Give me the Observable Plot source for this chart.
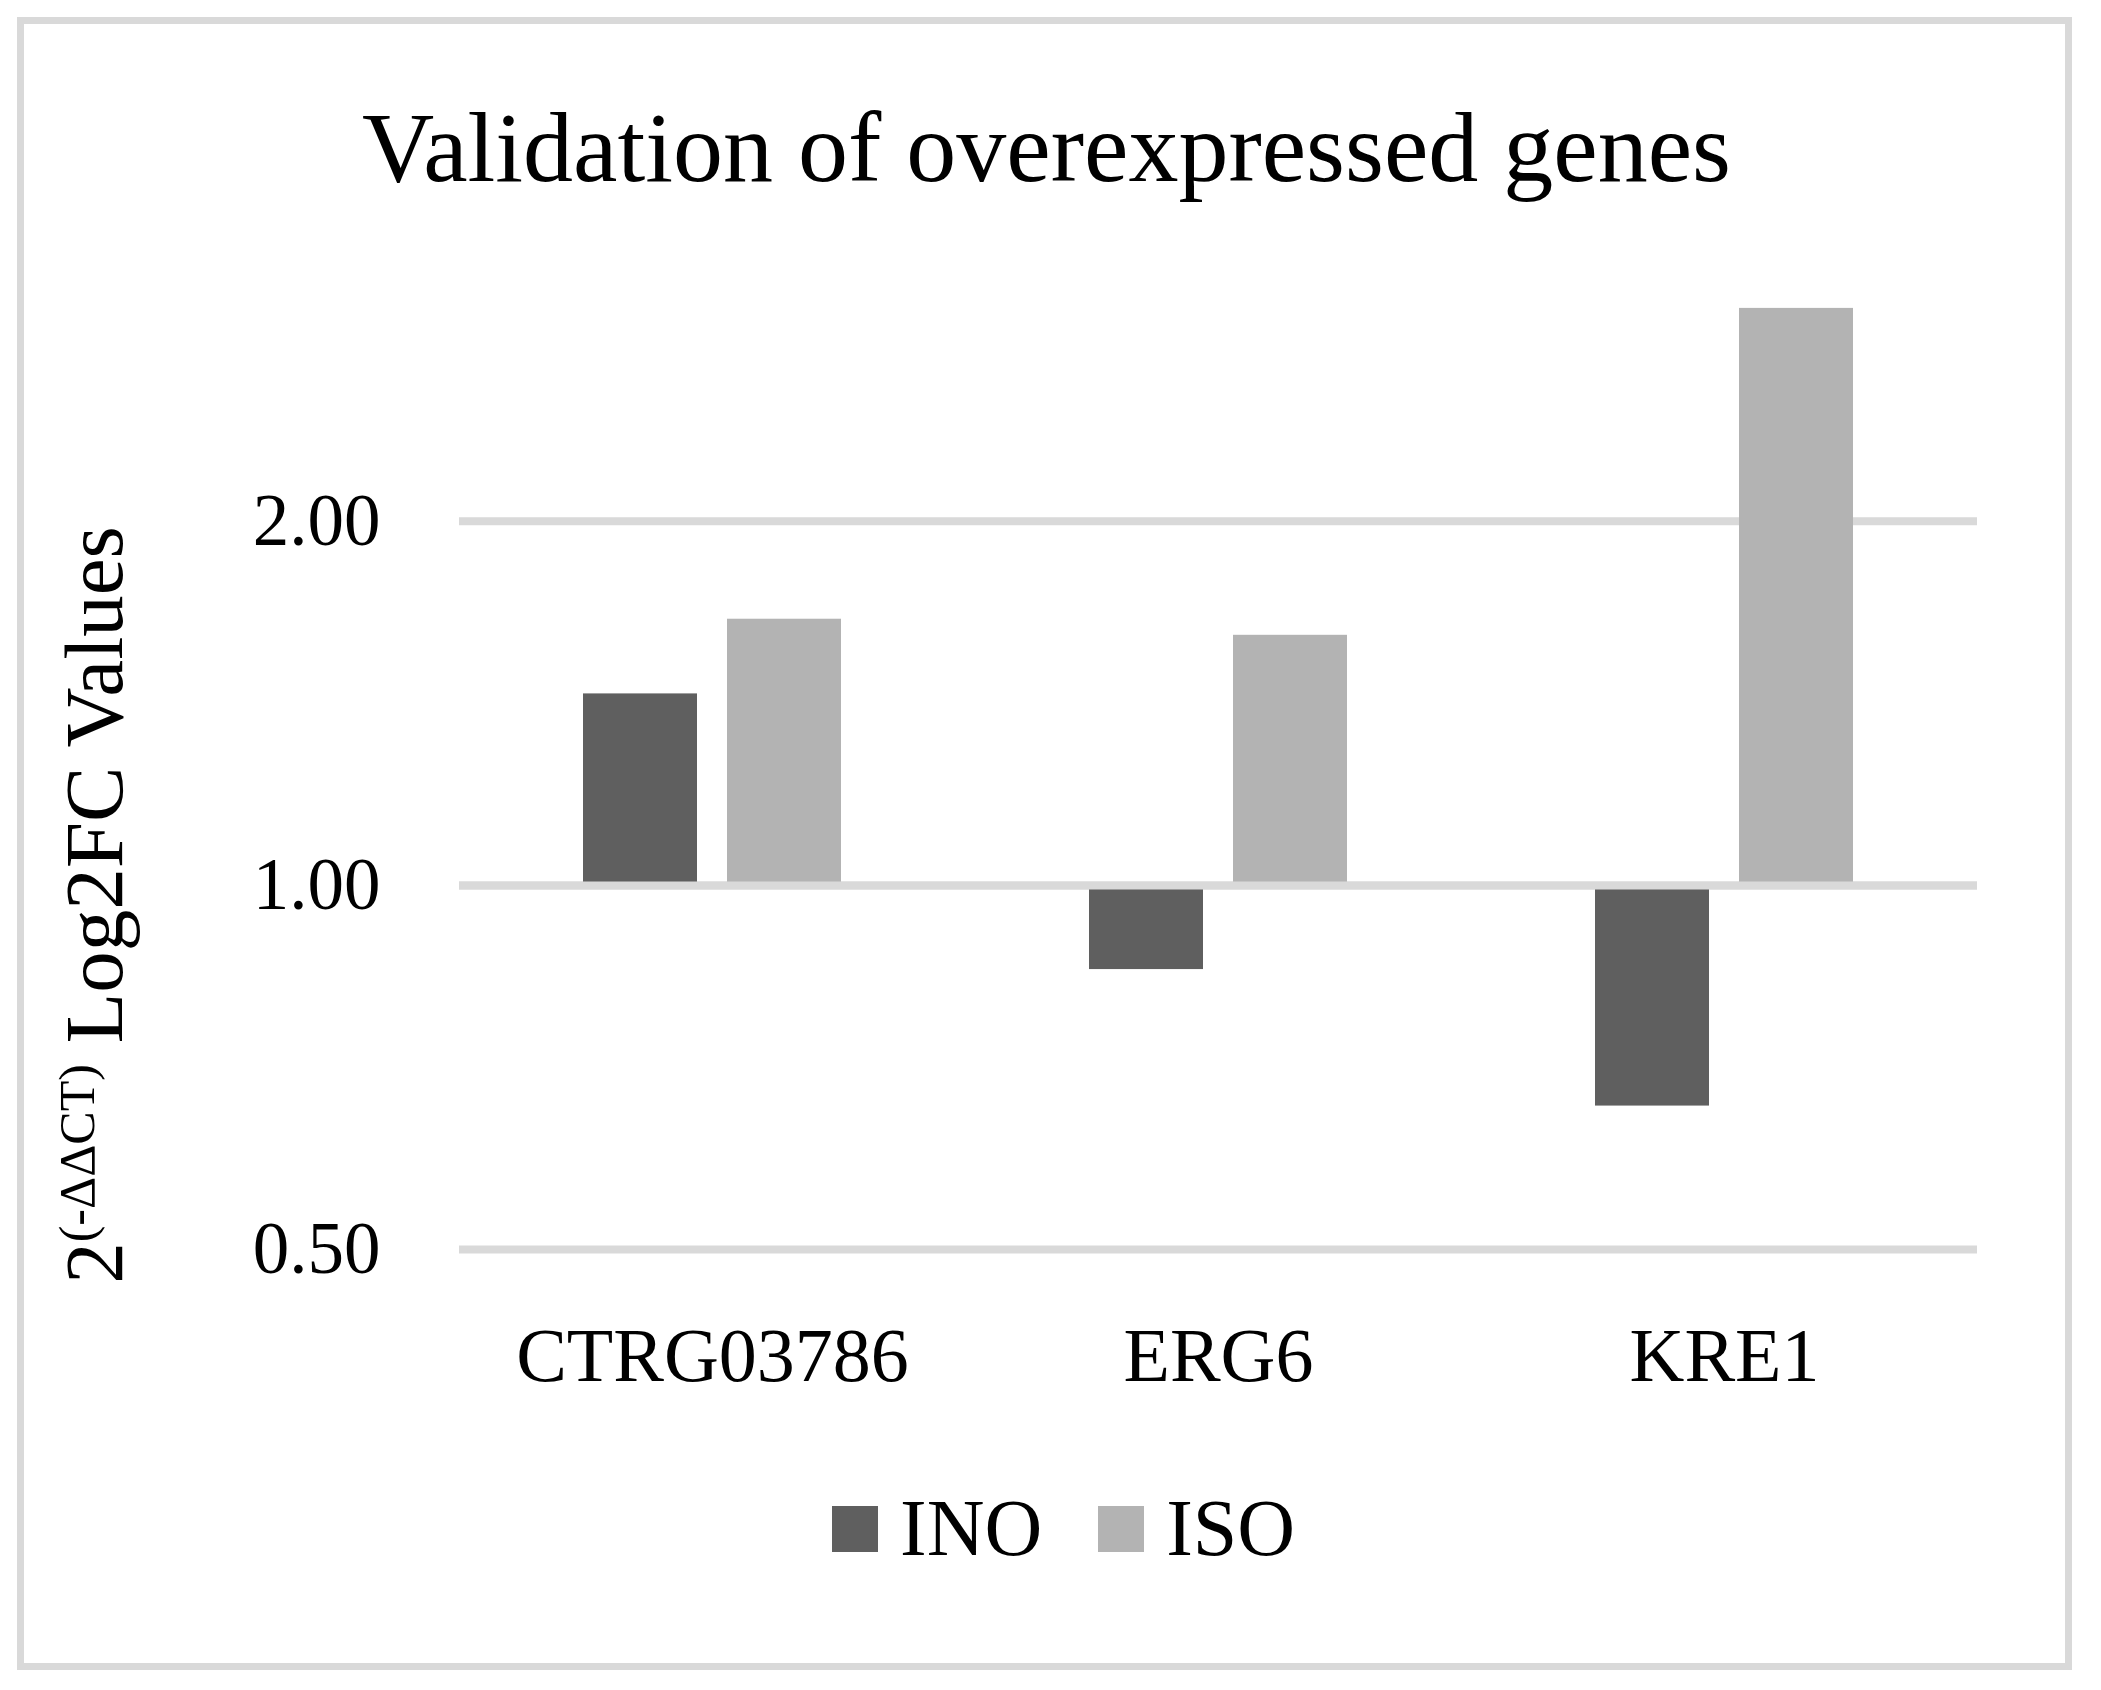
<!DOCTYPE html>
<html>
<head>
<meta charset="utf-8">
<script src="https://cdn.jsdelivr.net/npm/d3@7"></script>
<script src="https://cdn.jsdelivr.net/npm/@observablehq/plot@0.6"></script>
<style>
  html, body { margin: 0; padding: 0; background: #fff; }
  #page { position: relative; width: 2101px; height: 1690px; overflow: hidden; font-family: "Liberation Serif", serif; color: #000; }
  #frame { position: absolute; left: 17px; top: 17px; width: 2055px; height: 1653px; border: 7px solid #d9d9d9; box-sizing: border-box; pointer-events: none; }
  #title { height: 240px; box-sizing: border-box; padding-top: 98px; padding-right: 8px; font-size: 100px; line-height: 100px; text-align: center; white-space: nowrap; }
  #chart svg { display: block; }
  #legend { height: 270px; box-sizing: border-box; padding-top: 70px; padding-left: 832px; display: flex; align-items: flex-start; font-size: 80px; line-height: 77px; }
  .item { display: flex; align-items: center; height: 77px; }
  .sw { width: 46px; height: 46px; margin-right: 22px; }
  .item + .item { margin-left: 56px; }
</style>
</head>
<body>
<div id="page">
  <div id="title">Validation of overexpressed genes</div>
  <div id="chart"></div>
  <div id="legend"></div>
  <div id="frame"></div>
</div>
<script>
// ---- data ----
const genes = ["CTRG03786", "ERG6", "KRE1"];
const series = ["INO", "ISO"];
const inoValues = [1.44, 0.852, 0.657];
const isoValues = [1.66, 1.61, 3.0];
const yTicks = [0.5, 1, 2];
const baseline = 1;
const seriesColors = ["#5f5f5f", "#b3b3b3"];

const rows = [];
genes.forEach((g, i) => {
  rows.push({gene: g, series: "INO", value: inoValues[i]});
  rows.push({gene: g, series: "ISO", value: isoValues[i]});
});

const chart = Plot.plot({
  width: 2101,
  height: 1180,
  marginLeft: 459,
  marginRight: 124,
  marginTop: 34,
  marginBottom: 171,
  style: {fontFamily: "Liberation Serif", color: "#000", background: "#fff"},
  fx: {domain: genes, padding: 0},
  x: {domain: series, paddingInner: 0.208, paddingOuter: 0.86, axis: null},
  y: {type: "log", base: 2, domain: [0.5, 3.2]},
  color: {domain: series, range: seriesColors},
  marks: [
    Plot.ruleY(yTicks, {stroke: "#d9d9d9", strokeWidth: 8}),
    Plot.barY(rows, {fx: "gene", x: "series", y1: () => baseline, y2: "value", fill: "series"}),
    Plot.ruleY([baseline], {stroke: "#d9d9d9", strokeWidth: 8}),
    Plot.axisY({ticks: yTicks, tickFormat: d => d.toFixed(2), tickSize: 0, tickPadding: 79, fontSize: 73, label: null}),
    Plot.axisFx({anchor: "bottom", tickSize: 0, tickPadding: 78, fontSize: 76, label: null})
  ]
});
document.getElementById("chart").appendChild(chart);

// y-axis title with superscript
const svg = d3.select(chart);
const lab = svg.append("text")
  .attr("transform", "translate(122,665) rotate(-90)")
  .attr("text-anchor", "middle")
  .attr("font-family", "Liberation Serif")
  .attr("font-size", 83)
  .attr("fill", "#000");
lab.append("tspan").text("2");
lab.append("tspan").attr("font-size", 50).attr("dy", -28).text("(-ΔΔCT)");
lab.append("tspan").attr("dy", 28).text(" Log2FC Values");

// legend
const legend = d3.select("#legend");
series.forEach((s, i) => {
  const it = legend.append("div").attr("class", "item");
  it.append("div").attr("class", "sw").style("background", seriesColors[i]);
  it.append("span").text(s);
});
</script>
</body>
</html>
